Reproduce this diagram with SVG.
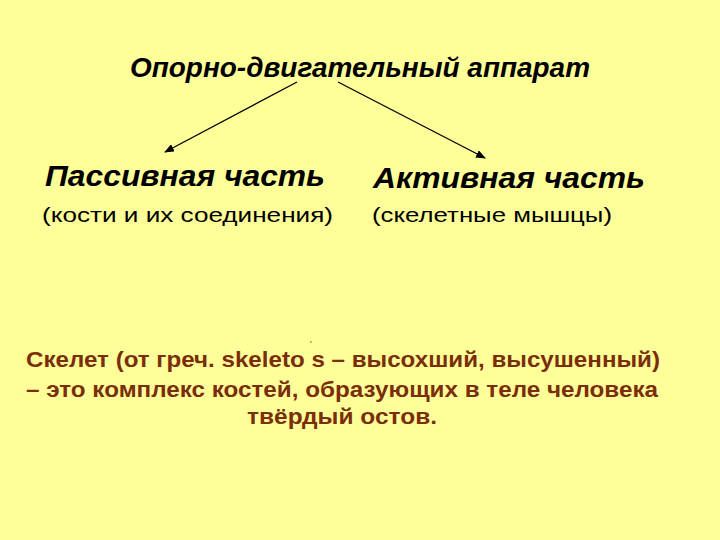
<svg xmlns="http://www.w3.org/2000/svg" width="720" height="540" viewBox="0 0 720 540">
<defs>
<marker id="ah" markerWidth="10" markerHeight="8" refX="9" refY="4" orient="auto" markerUnits="userSpaceOnUse">
<path d="M0,0 L10,4 L0,8 Z" fill="#000"/>
</marker>
<style>
.t{font-family:"Liberation Sans",Arial,sans-serif;font-weight:bold;font-style:italic;fill:#000}
.s{font-family:"Liberation Sans",Arial,sans-serif;fill:#000;font-size:21px}
.b{font-family:"Liberation Sans",Arial,sans-serif;fill:#7a2e0a;font-size:22px;font-weight:bold}
.c{stroke:#000;stroke-width:1.3;fill:none}
</style>
</defs>
<rect width="720" height="540" fill="#ffff99"/>
<g id="root"><text class="t" x="130" y="77" font-size="27" textLength="460" lengthAdjust="spacingAndGlyphs">Опорно-двигательный аппарат</text></g>
<g id="passive">
<text class="t" x="45" y="186" font-size="29" textLength="280" lengthAdjust="spacingAndGlyphs">Пассивная часть</text>
<text class="s" x="42" y="222" textLength="291" lengthAdjust="spacingAndGlyphs">(кости и их соединения)</text>
</g>
<g id="active">
<text class="t" x="373" y="188" font-size="29" textLength="272" lengthAdjust="spacingAndGlyphs">Активная часть</text>
<text class="s" x="372" y="222" textLength="240" lengthAdjust="spacingAndGlyphs">(скелетные мышцы)</text>
</g>
<g id="connectors">
<line class="c" x1="297" y1="82" x2="165" y2="152" marker-end="url(#ah)"/>
<line class="c" x1="338" y1="82" x2="485" y2="158" marker-end="url(#ah)"/>
</g>
<g id="definition">
<text class="b" x="26" y="367" textLength="634" lengthAdjust="spacingAndGlyphs">Скелет (от греч. skeleto s – высохший, высушенный)</text>
<text x="310" y="347" font-family="Liberation Sans,sans-serif" font-size="9" fill="#7a2e0a">'</text>
<text class="b" x="26" y="397" textLength="632" lengthAdjust="spacingAndGlyphs">– это комплекс костей, образующих в теле человека</text>
<text class="b" x="247" y="424" textLength="190" lengthAdjust="spacingAndGlyphs">твёрдый остов.</text>
</g>
</svg>
